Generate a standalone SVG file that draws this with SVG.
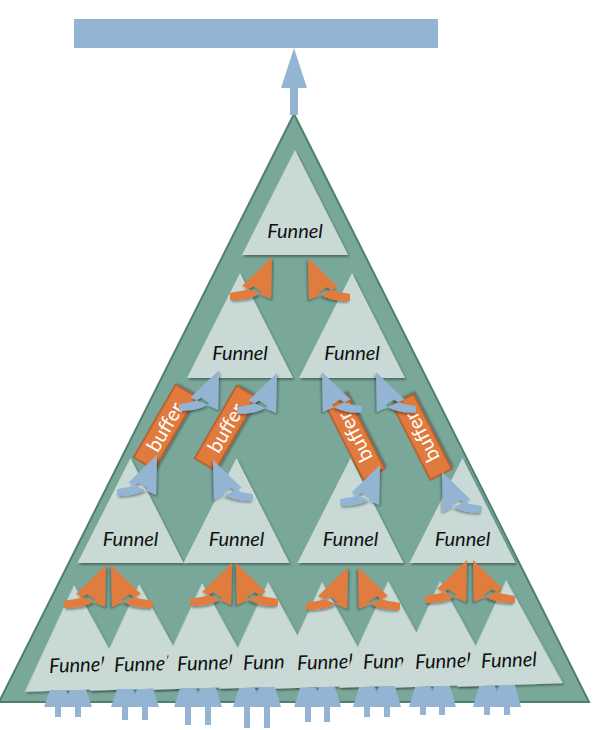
<svg xmlns="http://www.w3.org/2000/svg" xmlns:xlink="http://www.w3.org/1999/xlink" width="600" height="730" viewBox="0 0 600 730">
<style>
.big{fill:#79a89a;stroke:#4f7f71;stroke-width:2;stroke-linejoin:miter}
.fn{fill:#c9dad6;filter:url(#sh)}
.lbl{font-family:Lato,"Liberation Sans",sans-serif;font-style:italic;font-size:20px;fill:#111;text-anchor:middle}
.buf{fill:#e07a3e;stroke:#b3582a;stroke-width:1.5;filter:url(#sh)}
.btx{font-family:Lato,"Liberation Sans",sans-serif;font-size:20px;fill:#fff;text-anchor:middle}
.or{fill:#e07c3e;filter:url(#sh)}
.bl{fill:#94b4d3;filter:url(#sh)}
.in{fill:#94b4d3}
.out{fill:#94b4d3}
</style>
<defs>
<filter id="sh" x="-30%" y="-30%" width="160%" height="160%">
<feDropShadow dx="1.5" dy="2" stdDeviation="1.2" flood-color="#000" flood-opacity="0.35"/>
</filter>
<path id="sw" d="M0,0 L-30,29 L-1,42 Z M-42,36 C-33,34 -25,34 -19,29 L-10,35 C-19,42 -31,43 -42,43 Z"/>
</defs>

<rect id="output" x="74" y="19" width="364" height="29" class="out"/>

<g id="tree">
<polygon class="big" points="294,114 -1,702 589,702"/>
</g>

<g id="funnel-top"><polygon class="fn" points="295,150 242,255 348,255"/><text class="lbl" x="295" y="238">Funnel</text></g>

<g id="funnel-2a"><polygon class="fn" points="240,273 187,378 293,378"/><text class="lbl" x="240" y="360">Funnel</text></g>
<g id="funnel-2b"><polygon class="fn" points="352,273 299,378 405,378"/><text class="lbl" x="352" y="360">Funnel</text></g>

<g id="funnel-3a"><polygon class="fn" points="130.5,458 77.5,563 183.5,563"/><text class="lbl" x="130.5" y="546">Funnel</text></g>
<g id="funnel-3b"><polygon class="fn" points="236.5,458 183.5,563 289.5,563"/><text class="lbl" x="236.5" y="546">Funnel</text></g>
<g id="funnel-3c"><polygon class="fn" points="350.5,458 297.5,563 403.5,563"/><text class="lbl" x="350.5" y="546">Funnel</text></g>
<g id="funnel-3d"><polygon class="fn" points="462.5,458 409.5,563 515.5,563"/><text class="lbl" x="462.5" y="546">Funnel</text></g>

<g id="funnel-4a" transform="rotate(-2 76 638)"><polygon class="fn" points="76,585 23,690 129,690"/><text class="lbl" x="76" y="672">Funnel</text></g>
<g id="funnel-4b" transform="rotate(-2 141 637)"><polygon class="fn" points="141,584 88,689 194,689"/><text class="lbl" x="141" y="671">Funnel</text></g>
<g id="funnel-4c" transform="rotate(-2 204 636)"><polygon class="fn" points="204,583 151,688 257,688"/><text class="lbl" x="204" y="670">Funnel</text></g>
<g id="funnel-4d" transform="rotate(-2 270 635)"><polygon class="fn" points="270,582 217,687 323,687"/><text class="lbl" x="270" y="669">Funnel</text></g>
<g id="funnel-4e" transform="rotate(-2 324 635)"><polygon class="fn" points="324,582 271,687 377,687"/><text class="lbl" x="324" y="669">Funnel</text></g>
<g id="funnel-4f" transform="rotate(-2 390 634)"><polygon class="fn" points="390,581 337,686 443,686"/><text class="lbl" x="390" y="668">Funnel</text></g>
<g id="funnel-4g" transform="rotate(-2 442 634)"><polygon class="fn" points="442,581 389,686 495,686"/><text class="lbl" x="442" y="668">Funnel</text></g>
<g id="funnel-4h" transform="rotate(-2 508 633)"><polygon class="fn" points="508,580 455,685 561,685"/><text class="lbl" x="508" y="667">Funnel</text></g>

<g id="buffer-1" transform="translate(165 427) rotate(-60)"><rect class="buf" x="-42" y="-12" width="84" height="24"/><text class="btx" x="0" y="7">buffer</text></g>
<g id="buffer-2" transform="translate(226 428) rotate(-60)"><rect class="buf" x="-42" y="-12" width="84" height="24"/><text class="btx" x="0" y="7">buffer</text></g>
<g id="buffer-3" transform="translate(355 437) rotate(-117)"><rect class="buf" x="-42" y="-12" width="84" height="24"/><text class="btx" x="0" y="7">buffer</text></g>
<g id="buffer-4" transform="translate(422 437) rotate(-117)"><rect class="buf" x="-42" y="-12" width="84" height="24"/><text class="btx" x="0" y="7">buffer</text></g>

<g id="connectors">
<polygon class="out" points="294,48 307,88 298,88 298,115 290,115 290,88 281,88"/>
<use xlink:href="#sw" class="or" transform="translate(272 257)"/>
<use xlink:href="#sw" class="or" transform="translate(308 258) scale(-1 1)"/>
<use xlink:href="#sw" class="or" transform="translate(106 565)"/>
<use xlink:href="#sw" class="or" transform="translate(111 565) scale(-1 1)"/>
<use xlink:href="#sw" class="or" transform="translate(232 563)"/>
<use xlink:href="#sw" class="or" transform="translate(236 563) scale(-1 1)"/>
<use xlink:href="#sw" class="or" transform="translate(348 567)"/>
<use xlink:href="#sw" class="or" transform="translate(358 567) scale(-1 1)"/>
<use xlink:href="#sw" class="or" transform="translate(467 560)"/>
<use xlink:href="#sw" class="or" transform="translate(473 560) scale(-1 1)"/>
<use xlink:href="#sw" class="bl" transform="translate(219 370) scale(0.95)"/>
<use xlink:href="#sw" class="bl" transform="translate(277 373) scale(0.95)"/>
<use xlink:href="#sw" class="bl" transform="translate(322 372) scale(-0.95 0.95)"/>
<use xlink:href="#sw" class="bl" transform="translate(376 372) scale(-0.95 0.95)"/>
<use xlink:href="#sw" class="bl" transform="translate(157 455) scale(0.95)"/>
<use xlink:href="#sw" class="bl" transform="translate(213 460) scale(-0.95 0.95)"/>
<use xlink:href="#sw" class="bl" transform="translate(380 465) scale(0.95)"/>
<use xlink:href="#sw" class="bl" transform="translate(442 472) scale(-0.95 0.95)"/>
<polygon class="in" points="50,690 66,690 72,707 61,707 61,717 55,717 55,707 44,707"/>
<polygon class="in" points="70,690 86,690 92,707 81,707 81,717 75,717 75,707 64,707"/>
<polygon class="in" points="117,689 133,689 139,707 128,707 128,720 122,720 122,707 111,707"/>
<polygon class="in" points="137,689 153,689 159,707 148,707 148,720 142,720 142,707 131,707"/>
<polygon class="in" points="180,688 196,688 202,707 191,707 191,725 185,725 185,707 174,707"/>
<polygon class="in" points="200,688 216,688 222,707 211,707 211,725 205,725 205,707 194,707"/>
<polygon class="in" points="239,688 255,688 261,707 250,707 250,728 244,728 244,707 233,707"/>
<polygon class="in" points="259,687 275,687 281,707 270,707 270,728 264,728 264,707 253,707"/>
<polygon class="in" points="300,688 316,688 322,707 311,707 311,722 305,722 305,707 294,707"/>
<polygon class="in" points="319,687 335,687 341,707 330,707 330,722 324,722 324,707 313,707"/>
<polygon class="in" points="359,687 375,687 381,707 370,707 370,717 364,717 364,707 353,707"/>
<polygon class="in" points="379,686 395,686 401,707 390,707 390,717 384,717 384,707 373,707"/>
<polygon class="in" points="415,687 431,687 437,707 426,707 426,715 420,715 420,707 409,707"/>
<polygon class="in" points="434,686 450,686 456,707 445,707 445,715 439,715 439,707 428,707"/>
<polygon class="in" points="479,686 495,686 501,707 490,707 490,715 484,715 484,707 473,707"/>
<polygon class="in" points="499,685 515,685 521,707 510,707 510,715 504,715 504,707 493,707"/>
</g>
</svg>
